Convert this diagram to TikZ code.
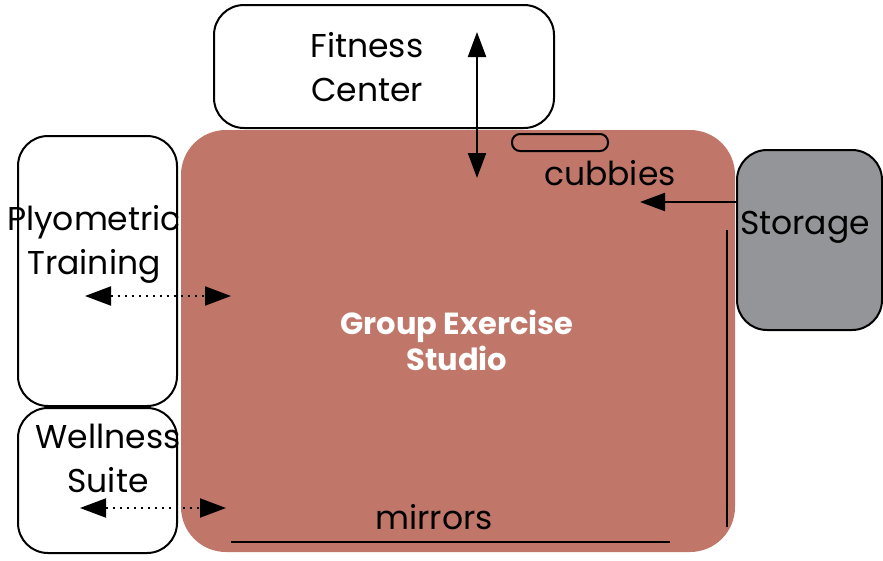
\documentclass[tikz,border=0pt]{standalone}
\usepackage{fontspec}
\setmainfont{Poppins}
\usetikzlibrary{arrows.meta}
\definecolor{studio}{HTML}{C0776A}
\definecolor{storegray}{HTML}{939598}
\tikzset{
  room/.style={draw=black, line width=2pt, rounded corners=30pt, fill=white, inner sep=0pt},
  lbl/.style={font=\fontsize{33}{44}\selectfont, align=center, inner sep=0pt, text=black},
  solidarrow/.style={line width=2.2pt, -{Triangle[length=25pt,width=18pt]}},
  dblarrow/.style={line width=2.2pt, {Triangle[length=25pt,width=18pt]}-{Triangle[length=25pt,width=18pt]}},
  dotarrow/.style={line width=2pt, dash pattern=on 2pt off 5pt, {Triangle[length=26pt,width=19pt]}-{Triangle[length=26pt,width=19pt]}},
  wall/.style={line width=2.2pt}
}
\begin{document}
\begin{tikzpicture}[x=1pt,y=-1pt]
\useasboundingbox (0,0) rectangle (883,560);
% rooms
\node[room, minimum width=340pt, minimum height=123pt] (fit) at (384,66.5) {};
\node[fill=studio, rounded corners=45pt, minimum width=554pt, minimum height=422pt, inner sep=0pt] (studio) at (458,341) {};
\node[room, fill=storegray, minimum width=145pt, minimum height=180pt] (stor) at (809.5,240) {};
\node[room, minimum width=159pt, minimum height=270pt] (plyo) at (97.5,271) {};
\node[room, minimum width=159pt, minimum height=145pt] (well) at (97.5,480.5) {};
\node[draw=black, line width=2pt, fill=studio, rounded corners=8pt, minimum width=96pt, minimum height=17pt, inner sep=0pt] (cub) at (560,142.5) {};
% labels
\node[lbl] (fitlbl) at (367,67) {Fitness\\Center};
\node[lbl] (plyolbl) at (94,244) {Plyometric\\Training};
\node[lbl] (welllbl) at (108,458) {Wellness\\Suite};
\node[lbl] (storlbl) at (805,227) {Storage};
\node[lbl] (cublbl) at (610,173) {cubbies};
\node[lbl] (mirlbl) at (434,517) {mirrors};
\node[font=\fontsize{30.5}{36}\selectfont\bfseries, text=white, align=center, inner sep=0pt] (studlbl) at (457,340) {Group Exercise\\Studio};
% connector endpoints
\coordinate (fitA) at (477,178);
\coordinate (fitB) at (477,32);
\coordinate (storA) at (737,202);
\coordinate (storB) at (640,202);
\coordinate (plyoA) at (85,296);
\coordinate (plyoB) at (231,296);
\coordinate (wellA) at (80,508);
\coordinate (wellB) at (226,508);
\coordinate (mirA) at (231,542);
\coordinate (mirB) at (670,542);
\coordinate (wallA) at (727,230);
\coordinate (wallB) at (727,527);
% connectors
\draw[dblarrow] (fitA) -- (fitB);
\draw[solidarrow] (storA) -- (storB);
\draw[dotarrow] (plyoA) -- (plyoB);
\draw[dotarrow] (wellA) -- (wellB);
\draw[wall] (mirA) -- (mirB);
\draw[wall] (wallA) -- (wallB);
\end{tikzpicture}
\end{document}
